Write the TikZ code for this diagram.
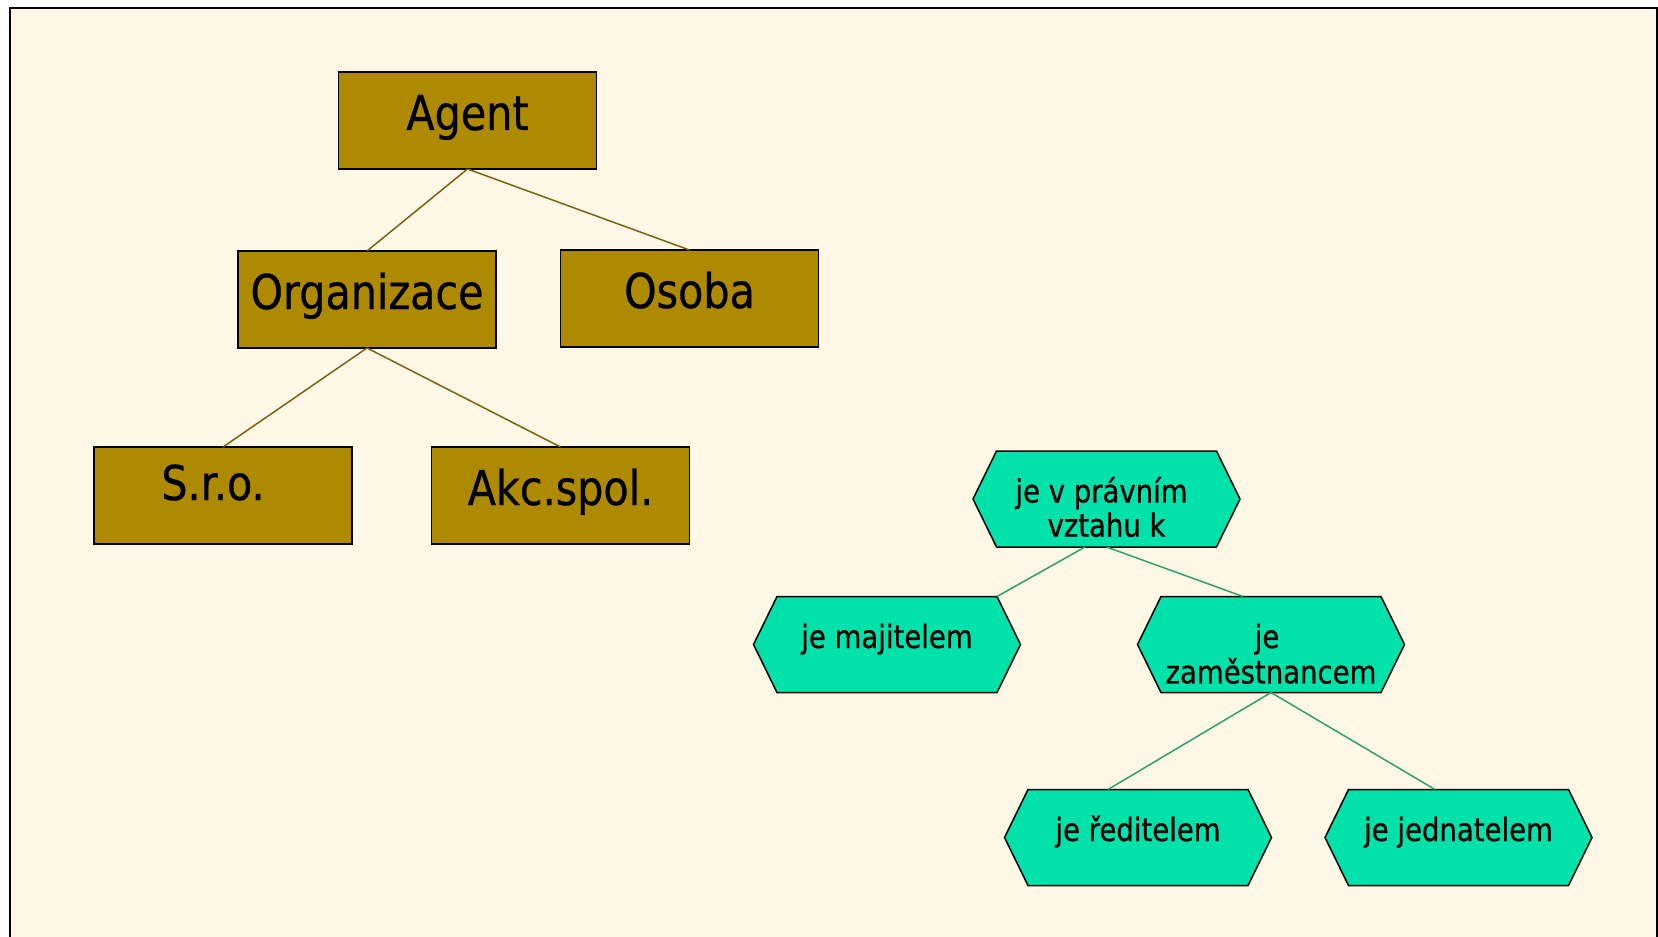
\documentclass[tikz,border=0pt]{standalone}
\usepackage{fontspec}
\setmainfont{DejaVu Sans}[FakeStretch=0.86,FakeBold=0.6]
\usetikzlibrary{backgrounds}
\definecolor{paper}{RGB}{255,248,230}
\definecolor{olivefill}{RGB}{173,138,0}
\definecolor{oliveline}{RGB}{122,98,16}
\definecolor{mintfill}{RGB}{0,226,170}
\definecolor{mintline}{RGB}{46,160,112}
\begin{document}
\begin{tikzpicture}[x=0.5pt,y=-0.5pt,
  classbox/.style={rectangle, draw=black, line width=0.8pt, fill=olivefill,
    minimum width=129pt, minimum height=48.5pt, inner sep=0pt, outer sep=0pt,
    text height=29pt, text depth=19.5pt, font=\fontsize{24}{28}\selectfont},
  relbox/.style={rectangle, minimum width=110pt, minimum height=48pt,
    inner sep=0pt, outer sep=0pt, text height=25.75pt, text depth=22.25pt,
    font=\fontsize{16}{16.5}\selectfont},
  hexface/.style={fill=mintfill, draw=black, line width=0.75pt, line join=miter},
  treeline/.style={draw=oliveline, line width=0.75pt},
  relline/.style={draw=mintline, line width=0.75pt}]

\useasboundingbox (0,0) rectangle (1658,936);

% class hierarchy
\node[classbox] (agent) at (467.5,120.5) {Agent};
\node[classbox] (org)   at (367,299.5)   {Organizace};
\node[classbox] (osoba) at (689.5,298.5) {Osoba};
\node[classbox, text height=26.5pt, text depth=22pt] (sro) at (223,495.5) {S.r.o.\kern10pt};
\node[classbox] (akc)   at (560.5,495.5) {Akc.spol.};

\draw[treeline] (agent.south) -- (org.north);
\draw[treeline] (agent.south) -- (osoba.north);
\draw[treeline] (org.south) -- (sro.north);
\draw[treeline] (org.south) -- (akc.north);

% relation hierarchy
\node[relbox] (vztah) at (1106.5,499) {\begin{tabular}[t]{@{}c@{}}je v právním\kern5pt\\vztahu k\end{tabular}};
\node[relbox] (majitel) at (887,644.5) {je majitelem};
\node[relbox] (zam) at (1271,644.5) {\begin{tabular}[t]{@{}c@{}}je\kern4pt\\zaměstnancem\end{tabular}};
\node[relbox] (reditel) at (1138,837.5) {je ředitelem};
\node[relbox] (jednatel) at (1458.5,837.5) {je jednatelem};

\draw[relline] ([xshift=-10.75pt]vztah.south) -- (majitel.north east);
\draw[relline] (vztah.south) -- ([xshift=-14pt]zam.north);
\draw[relline] (zam.south) -- ([xshift=-15pt]reditel.north);
\draw[relline] (zam.south) -- ([xshift=-11.75pt]jednatel.north);

\begin{scope}[on background layer]
  \fill[white] (0,0) rectangle (1658,936);
  \filldraw[fill=paper, draw=black, line width=1pt] (10,8) rectangle (1657,960);
  \foreach \n in {vztah,majitel,zam,reditel,jednatel}
    \filldraw[hexface] (\n.north west) -- (\n.north east)
      -- ([xshift=11.75pt]\n.east) -- (\n.south east) -- (\n.south west)
      -- ([xshift=-11.75pt]\n.west) -- cycle;
\end{scope}
\end{tikzpicture}
\end{document}
